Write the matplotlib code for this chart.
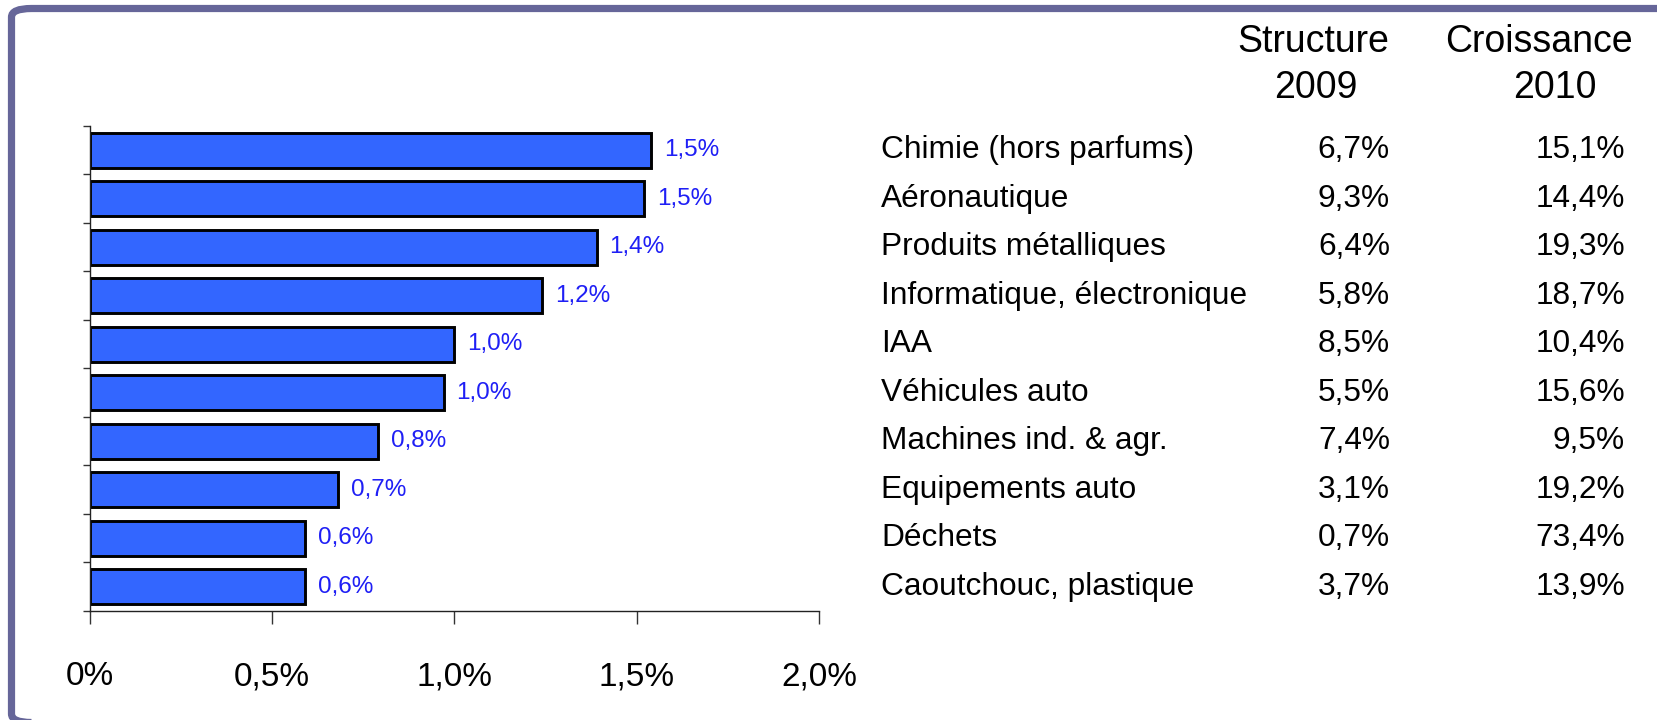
import numpy as np
import matplotlib
matplotlib.use("Agg")
from matplotlib import pyplot as plt
from matplotlib.patches import FancyBboxPatch
from matplotlib.transforms import blended_transform_factory

# Contribution of each sector (bars, in %)
sectors = ["Chimie (hors parfums)", "Aéronautique", "Produits métalliques",
           "Informatique, électronique", "IAA", "Véhicules auto",
           "Machines ind. & agr.", "Equipements auto", "Déchets",
           "Caoutchouc, plastique"]
contrib = [1.54, 1.52, 1.39, 1.24, 1.00, 0.97, 0.79, 0.68, 0.59, 0.59]
structure_2009 = ["6,7%", "9,3%", "6,4%", "5,8%", "8,5%", "5,5%", "7,4%", "3,1%", "0,7%", "3,7%"]
croissance_2010 = ["15,1%", "14,4%", "19,3%", "18,7%", "10,4%", "15,6%", "9,5%", "19,2%", "73,4%", "13,9%"]
xticks = [0, 0.5, 1.0, 1.5, 2.0]
xtick_labels = ["0%", "0,5%", "1,0%", "1,5%", "2,0%"]

plt.rcParams['font.family'] = ['Liberation Sans', 'DejaVu Sans']

W, H = 1658, 720
fig = plt.figure(figsize=(W / 100, H / 100), dpi=100)

# frame around the picture (partly cut by the image edges)
frame = FancyBboxPatch((11.5 / W, -2.5 / H), 1.2, (H - 8.5 + 2.5) / H,
                       boxstyle="round,pad=0,rounding_size=0.012",
                       transform=fig.transFigure, facecolor="none",
                       edgecolor="#666699", linewidth=5.2)
fig.patches.append(frame)

ax = fig.add_axes([90 / W, 1 - 611 / H, (819 - 90) / W, (611 - 126) / H])
y = np.arange(len(sectors))
ax.barh(y, contrib, height=0.72, color="#3366ff", edgecolor="black", linewidth=2.1)
for yi, v in zip(y, contrib):
    ax.text(v + 0.035, yi, ("%.1f%%" % v).replace(".", ","), va="center", ha="left",
            color="#1f1ff5", fontsize=17.5)

ax.set_xlim(0, 2.0)
ax.set_ylim(len(sectors) - 0.5, -0.5)
ax.set_xticks(xticks)
ax.set_xticklabels(xtick_labels, fontsize=24)
ax.set_yticks(np.arange(-0.5, len(sectors)))
ax.set_yticklabels([])
ax.tick_params(axis="x", direction="out", length=9, width=1, color="#333333", pad=27)
ax.tick_params(axis="y", direction="out", length=5, width=1, color="#333333")
for s in ["top", "right"]:
    ax.spines[s].set_visible(False)
for s in ["left", "bottom"]:
    ax.spines[s].set_linewidth(1)
    ax.spines[s].set_color("#222222")

# table on the right
tr = blended_transform_factory(fig.transFigure, ax.transData)
for yi, name, s09, c10 in zip(y, sectors, structure_2009, croissance_2010):
    fig.text(881 / W, yi, name, transform=tr, ha="left", va="center", fontsize=22.8)
    fig.text(1390 / W, yi, s09, transform=tr, ha="right", va="center", fontsize=22.8)
    fig.text(1625 / W, yi, c10, transform=tr, ha="right", va="center", fontsize=22.8)

fig.text(1313 / W, 1 - 42 / H, "Structure", ha="center", va="center", fontsize=27)
fig.text(1316 / W, 1 - 88 / H, "2009", ha="center", va="center", fontsize=27)
fig.text(1539 / W, 1 - 42 / H, "Croissance", ha="center", va="center", fontsize=27)
fig.text(1555 / W, 1 - 88 / H, "2010", ha="center", va="center", fontsize=27)

fig.savefig("out.png", dpi=100)
